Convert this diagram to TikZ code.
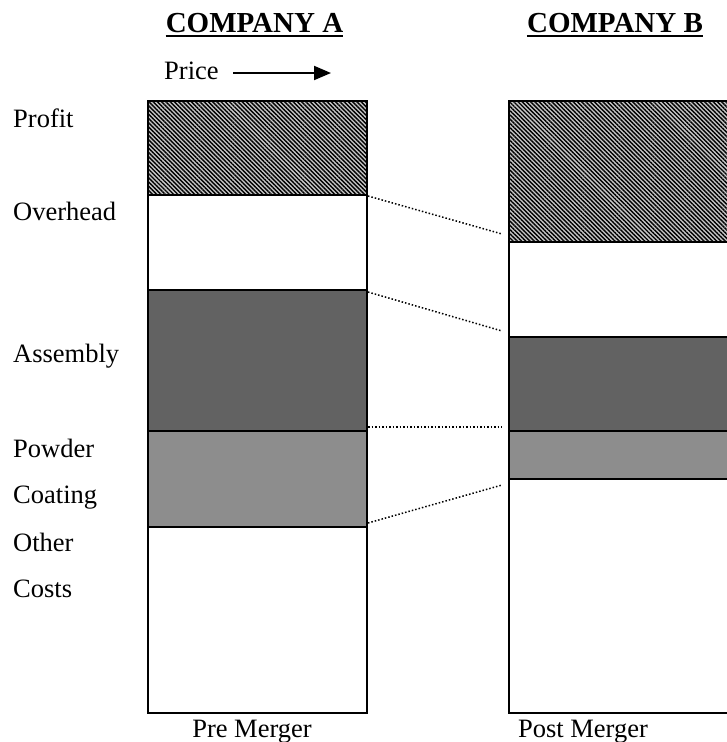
\documentclass[tikz,border=0pt]{standalone}
\usepackage{fontspec}
\setmainfont{Liberation Serif}
\usetikzlibrary{patterns.meta,arrows.meta}
\begin{document}
\begin{tikzpicture}[x=1pt,y=-1pt,
  boxline/.style={draw=black,line width=2.4pt},
  hatchA/.style={preaction={fill=black!22},pattern={Lines[angle=-45,distance=3pt,line width=1.4pt]},pattern color=black},
  checkdark/.style={preaction={fill=black!50},pattern={Dots[distance=2pt,radius=0.7pt]},pattern color=black},
  checklight/.style={preaction={fill=black!28},pattern={Dots[distance=2pt,radius=0.7pt]},pattern color=black},
  link/.style={line width=1.5pt,dash pattern=on 1.5pt off 2pt},
  lbl/.style={anchor=base west,inner sep=0pt,font=\fontsize{26.5}{30}\selectfont},
  captxt/.style={anchor=base,inner sep=0pt,font=\fontsize{26.5}{30}\selectfont},
  head/.style={anchor=base,inner sep=0pt,font=\fontsize{29}{32}\selectfont\bfseries},
  uline/.style={line width=2pt},
]
\useasboundingbox (0,0) rectangle (727,742);
\clip (0,0) rectangle (727,742);

% Company A bars
\path[hatchA] (148,101) rectangle (367,195);
\path[checkdark] (148,290) rectangle (367,431);
\path[checklight] (148,431) rectangle (367,527);
\draw[boxline] (148,101) rectangle (367,713);
\draw[boxline] (148,195) -- (367,195);
\draw[boxline] (148,290) -- (367,290);
\draw[boxline] (148,431) -- (367,431);
\draw[boxline] (148,527) -- (367,527);

% Company B bars
\path[hatchA] (509,101) rectangle (728,242);
\path[checkdark] (509,337) rectangle (728,431);
\path[checklight] (509,431) rectangle (728,479);
\draw[boxline] (509,101) rectangle (728,713);
\draw[boxline] (509,242) -- (728,242);
\draw[boxline] (509,337) -- (728,337);
\draw[boxline] (509,431) -- (728,431);
\draw[boxline] (509,479) -- (728,479);

% dotted links
\coordinate (a1) at (368,196); \coordinate (b1) at (502,234);
\coordinate (a2) at (368,292); \coordinate (b2) at (502,331);
\coordinate (a3) at (368,427); \coordinate (b3) at (502,427);
\coordinate (a4) at (368,523); \coordinate (b4) at (502,485);
\draw[link] (a1) -- (b1);
\draw[link] (a2) -- (b2);
\draw[link] (a3) -- (b3);
\draw[link] (a4) -- (b4);

% headings
\node[head] (ca) at (254.5,32) {COMPANY A};
\node[head] (cb) at (615,32) {COMPANY B};
\draw[uline] ([yshift=-4pt]ca.base west) -- ([yshift=-4pt]ca.base east);
\draw[uline] ([yshift=-4pt]cb.base west) -- ([yshift=-4pt]cb.base east);

% price arrow
\node[lbl] (price) at (164,79) {Price};
\coordinate (arrS) at (233,73);
\coordinate (arrE) at (331,73);
\draw[line width=2pt,-{Triangle[length=17pt,width=14pt]}] (arrS) -- (arrE);

% labels
\node[lbl] (lprofit) at (13,127) {Profit};
\node[lbl] (lover) at (13,220) {Overhead};
\node[lbl] (lassy) at (13,362) {Assembly};
\node[lbl] (lpow) at (13,457) {Powder};
\node[lbl] (lcoat) at (13,503) {Coating};
\node[lbl] (loth) at (13,551) {Other};
\node[lbl] (lcost) at (13,597) {Costs};

% bottom captions
\node[captxt] (pre) at (252,737) {Pre Merger};
\node[captxt] (post) at (583,737) {Post Merger};
\end{tikzpicture}
\end{document}
